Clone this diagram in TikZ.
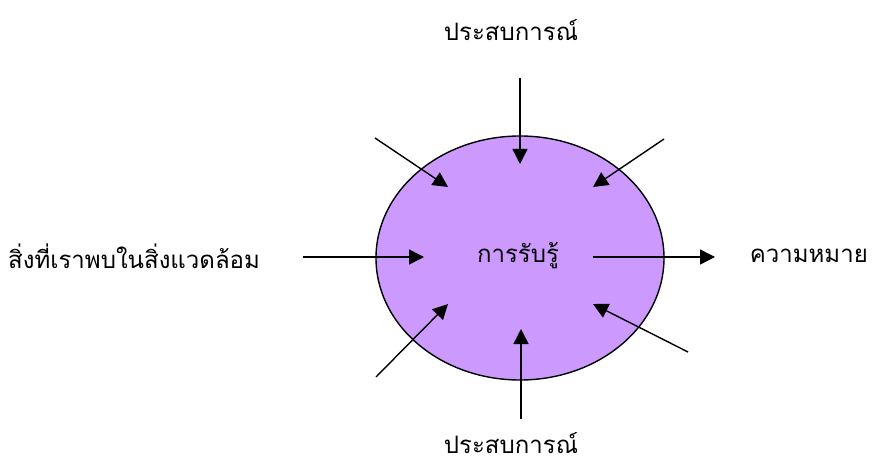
\documentclass[tikz,border=0pt]{standalone}
\usepackage{fontspec}
\newfontfamily\thaifont[Script=Thai]{Loma}
\usetikzlibrary{arrows.meta,shapes.geometric}
\definecolor{bubble}{RGB}{204,153,255}
\tikzset{
  lbl/.style={font=\thaifont\fontsize{24}{29}\selectfont, inner sep=0pt, text=black},
  arr/.style={line width=1.4pt, -{Triangle[length=15pt,width=15pt]}},
}
\begin{document}
\begin{tikzpicture}[x=1pt,y=-1pt]
\useasboundingbox (0,0) rectangle (874,465);
\fill[white] (0,0) rectangle (874,465);
\node[draw=black, line width=1.4pt, fill=bubble, ellipse, minimum width=288pt, minimum height=244pt, inner sep=0pt] (e) at (520,258) {};
\node[lbl] (c) at (518,256) {การรับรู้};
\node[lbl] (top) at (511,30) {ประสบการณ์};
\node[lbl] (bot) at (511,443) {ประสบการณ์};
\node[lbl, anchor=west] (left) at (8,256) {สิ่งที่เราพบในสิ่งแวดล้อม};
\node[lbl, anchor=east] (right) at (868,256) {ความหมาย};
\coordinate (tS) at (520,78);  \coordinate (tE) at (520,164);
\coordinate (tlS) at (375,138); \coordinate (tlE) at (448,187);
\coordinate (trS) at (664,139); \coordinate (trE) at (593,187);
\coordinate (lS) at (303,257); \coordinate (lE) at (424,257);
\coordinate (rS) at (593,257); \coordinate (rE) at (715,257);
\coordinate (blS) at (376,377); \coordinate (blE) at (448,304);
\coordinate (bS) at (521,419); \coordinate (bE) at (521,329);
\coordinate (brS) at (688,352); \coordinate (brE) at (593,304);
\draw[arr] (tS) -- (tE);
\draw[arr] (tlS) -- (tlE);
\draw[arr] (trS) -- (trE);
\draw[arr] (lS) -- (lE);
\draw[arr] (rS) -- (rE);
\draw[arr] (blS) -- (blE);
\draw[arr] (bS) -- (bE);
\draw[arr] (brS) -- (brE);
\end{tikzpicture}
\end{document}
